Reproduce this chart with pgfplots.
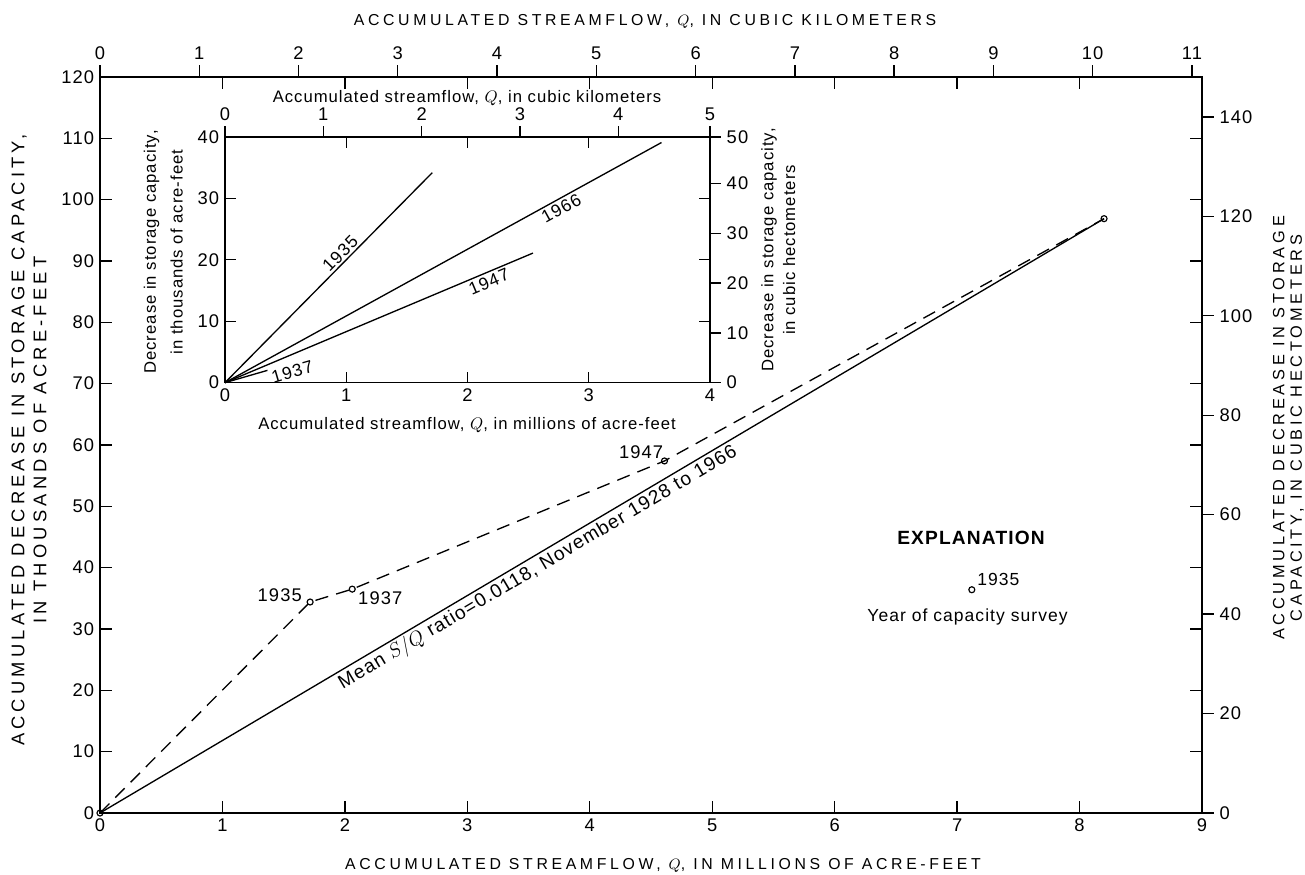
\documentclass[border=0pt]{standalone}
\usepackage{fontspec}
\setmainfont{Liberation Sans}[LetterSpace=6]
\newfontfamily\capsfont{Liberation Sans}[LetterSpace=23]
\usepackage{pgfplots}
\pgfplotsset{compat=1.18}

\pgfplotsset{
  common/.style={scale only axis, clip=false,
    /pgf/number format/assume math mode=true,
    tick style={black, line width=0.8pt},
    axis line style={line width=0.9pt},
    ticklabel style={font=\fontsize{11}{12}\selectfont},
  },
}

\begin{document}
\begin{tikzpicture}[x=1pt,y=1pt]
\path[use as bounding box] (-60pt,-36.6pt) rectangle (723pt,487.8pt);

% ---------------- main axis (millions of acre-feet / thousands of acre-feet)
\begin{axis}[common, at={(0pt,0pt)}, anchor=south west, width=661.2pt, height=441.6pt,
  xmin=0,xmax=9,ymin=0,ymax=120,
  xtick={0,...,9}, ytick={0,10,...,120},
  xticklabel pos=lower, yticklabel pos=left,
  xtick pos=both, ytick pos=both,
  tick align=inside, major tick length=7pt,
]
\addplot[black, line width=0.8pt] coordinates {(0,0) (8.2,96.9)}
  node[pos=0.43, sloped, below, inner sep=1pt, font=\fontsize{11.5}{13}\selectfont] {Mean $S/Q$ ratio=0.0118, November 1928 to 1966};
\addplot[black, line width=0.8pt, dash pattern=on 8pt off 5pt, mark=o, mark size=1.8pt,
  mark options={solid, fill=white, line width=0.7pt}]
  coordinates {(0,0) (1.716,34.4) (2.06,36.5) (4.61,57.4) (8.2,96.9)};
\addplot[only marks, mark=o, mark size=1.8pt, mark options={fill=white, line width=0.7pt}]
  coordinates {(7.12,36.4)};
\node[anchor=south east, inner sep=0pt, xshift=-4.8pt, font=\fontsize{11}{12}\selectfont] at (axis cs:1.716,34.4) {1935};
\node[anchor=north west, inner sep=0pt, xshift=3.4pt, yshift=-1.6pt, font=\fontsize{11}{12}\selectfont] at (axis cs:2.06,36.5) {1937};
\node[anchor=south east, inner sep=0pt, xshift=-0.6pt, yshift=1.2pt, font=\fontsize{11}{12}\selectfont] at (axis cs:4.61,57.4) {1947};
\end{axis}

% top axis: cubic kilometers
\begin{axis}[common, at={(0pt,0pt)}, anchor=south west, width=661.2pt, height=441.6pt,
  xmin=0,xmax=11.1015,ymin=0,ymax=120,
  axis x line*=top, axis y line=none,
  xtick={0,...,11}, tick align=outside, major tick length=7pt,
]
\end{axis}

% right axis: cubic hectometers
\begin{axis}[common, at={(0pt,0pt)}, anchor=south west, width=661.2pt, height=441.6pt,
  xmin=0,xmax=9,ymin=0,ymax=148.02,
  axis y line*=right, axis x line=none,
  ytick={0,20,...,140}, tick align=outside, major tick length=7pt,
]
\end{axis}

% ---------------- inset
\begin{axis}[common, at={(75pt,258.2pt)}, anchor=south west, width=291pt, height=147.4pt,
  axis background/.style={fill=white},
  xmin=0,xmax=4,ymin=0,ymax=40,
  xtick={0,...,4}, ytick={0,10,...,40},
  xticklabel pos=lower, yticklabel pos=left,
  xtick pos=both, ytick pos=both,
  tick align=inside, major tick length=6.5pt,
]
\addplot[black, line width=0.8pt] coordinates {(0,0) (1.71,34.2)}
  node[pos=0.585, sloped, above, inner sep=1pt, font=\fontsize{10.5}{12}\selectfont] {1935};
\addplot[black, line width=0.8pt] coordinates {(0,0) (3.6,39.1)}
  node[pos=0.76, sloped, below, inner sep=1.5pt, font=\fontsize{10.5}{12}\selectfont] {1966};
\addplot[black, line width=0.8pt] coordinates {(0,0) (2.54,21.1)}
  node[pos=0.845, sloped, below, inner sep=1.5pt, font=\fontsize{10.5}{12}\selectfont] {1947};
\addplot[black, line width=0.8pt] coordinates {(0,0) (0.35,2.0)}
  node[pos=1, sloped, anchor=north west, inner sep=1pt, font=\fontsize{10.5}{12}\selectfont] {1937};
\end{axis}

\begin{axis}[common, at={(75pt,258.2pt)}, anchor=south west, width=291pt, height=147.4pt,
  xmin=0,xmax=4.934,ymin=0,ymax=40,
  axis x line*=top, axis y line=none,
  xtick={0,1,2,3,4,4.934}, xticklabels={0,1,2,3,4,5},
  tick align=outside, major tick length=6.5pt,
]
\end{axis}

\begin{axis}[common, at={(75pt,258.2pt)}, anchor=south west, width=291pt, height=147.4pt,
  xmin=0,xmax=4,ymin=0,ymax=49.34,
  axis y line*=right, axis x line=none,
  ytick={0,10,20,30,40,49.34}, yticklabels={0,10,20,30,40,50},
  tick align=outside, major tick length=6.5pt,
]
\end{axis}

% ---------------- labels
\node[font=\capsfont\fontsize{9.5}{11}\selectfont] at (327pt,475.2pt) {ACCUMULATED STREAMFLOW, $Q$, IN CUBIC KILOMETERS};
\node[font=\capsfont\fontsize{9.5}{11}\selectfont] at (337.8pt,-31.2pt) {ACCUMULATED STREAMFLOW, $Q$, IN MILLIONS OF ACRE-FEET};
\node[rotate=90, align=center, font=\capsfont\fontsize{11}{13.2}\selectfont] at (-42.6pt,223.8pt) {ACCUMULATED DECREASE IN STORAGE CAPACITY,\\IN THOUSANDS OF ACRE-FEET};
\node[rotate=90, align=center, font=\capsfont\fontsize{9.8}{10.5}\selectfont] at (713pt,231pt) {ACCUMULATED DECREASE IN STORAGE\\CAPACITY, IN CUBIC HECTOMETERS};

\node[font=\fontsize{10}{12}\selectfont] at (220.2pt,429pt) {Accumulated streamflow, $Q$, in cubic kilometers};
\node[font=\fontsize{10}{12}\selectfont] at (220.2pt,232.8pt) {Accumulated streamflow, $Q$, in millions of acre-feet};
\node[rotate=90, align=center, font=\fontsize{10}{16}\selectfont] at (38pt,336.6pt) {Decrease in storage capacity,\\in thousands of acre-feet};
\node[rotate=90, align=center, font=\fontsize{10}{13}\selectfont] at (407pt,337.8pt) {Decrease in storage capacity,\\in cubic hectometers};

\node[font=\bfseries\fontsize{11.5}{13}\selectfont] at (522.6pt,165pt) {EXPLANATION};
\node[anchor=west, inner sep=0pt, font=\fontsize{10.5}{12}\selectfont] at (526.2pt,140.4pt) {1935};
\node[font=\fontsize{10.5}{12}\selectfont] at (520.5pt,117.6pt) {Year of capacity survey};
\end{tikzpicture}
\end{document}
